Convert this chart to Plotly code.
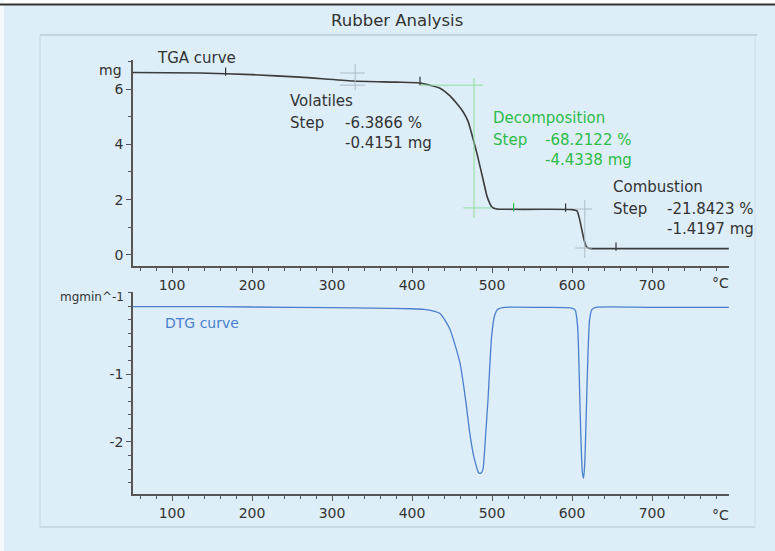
import plotly.graph_objects as go

W, H = 775, 551

# ---------------- data ----------------
tga_temp = [51, 135, 200, 260, 326, 380, 410, 422, 435, 447.5, 457.5, 464, 470, 475, 481, 489, 494,
            500, 506, 520, 560, 600, 606, 609, 612, 615, 618, 621, 624, 650, 720, 796]
tga_mass = [6.60, 6.58, 6.52, 6.43, 6.29, 6.25, 6.22, 6.14, 6.03, 5.75, 5.42, 5.17, 4.84, 4.34, 3.69, 2.71, 2.10,
            1.73, 1.66, 1.65, 1.65, 1.64, 1.60, 1.35, 0.95, 0.55, 0.30, 0.24, 0.23, 0.23, 0.23, 0.23]

dtg_temp = [51, 150, 250, 350, 400, 415, 426, 435, 447, 460, 467, 472, 477, 481, 483, 485, 487, 489,
            492, 495, 499.5, 503, 507, 515, 560, 600, 604, 607, 609, 611, 613, 614.5, 616, 618, 620,
            622, 625, 630, 700, 796]
dtg_val = [-0.01, -0.01, -0.02, -0.03, -0.04, -0.05, -0.07, -0.11, -0.33, -0.84, -1.38, -1.85, -2.20, -2.38,
           -2.45, -2.46, -2.45, -2.38, -1.90, -1.38, -0.45, -0.15, -0.05, -0.02, -0.02, -0.03, -0.06, -0.30,
           -1.00, -1.90, -2.45, -2.53, -2.30, -1.50, -0.70, -0.20, -0.05, -0.02, -0.02, -0.02]

# evaluation points marked on the TGA curve
mark_temp = [167, 410, 527, 592, 655]
mark_mass = [6.56, 6.22, 1.65, 1.64, 0.23]
mark_color = ["#333333", "#333333", "#2dbb4a", "#333333", "#333333"]

# step evaluation crosshairs
vol_v = dict(t=329, m=(5.96, 6.90), levels=(6.58, 6.14), trange=((310, 341), (310, 341)))
dec_v = dict(t=477.5, m=(1.34, 6.40), levels=(6.14, 1.70), trange=((410, 489), (464, 500)))
com_v = dict(t=616, m=(-0.11, 1.99), levels=(1.66, 0.25), trange=((604, 625), (604, 625)))

x_ticks = [100, 200, 300, 400, 500, 600, 700]

steps = [
    dict(name="Volatiles", pct="-6.3866 %", mg="-0.4151 mg"),
    dict(name="Decomposition", pct="-68.2122 %", mg="-4.4338 mg"),
    dict(name="Combustion", pct="-21.8423 %", mg="-1.4197 mg"),
]

# ---------------- styling ----------------
BG = "#ddeef9"
AX = "#555555"
TXT = "#333333"
GREEN = "#2dbb4a"
BLUE = "#4a7fcc"
GREY_CROSS = "#aebbc4"
FONT = "DejaVu Sans"

def px(x):
    return x / W

def py(y):
    return 1 - y / H

fig = go.Figure()

fig.add_trace(go.Scatter(x=tga_temp, y=tga_mass, mode="lines",
                         line=dict(color="#3c3c3c", width=1.6, shape="spline", smoothing=0.6),
                         xaxis="x", yaxis="y", showlegend=False))

def cross(c, color, xa="x", ya="y"):
    fig.add_trace(go.Scatter(x=[c["t"], c["t"]], y=list(c["m"]), mode="lines",
                             line=dict(color=color, width=1), xaxis=xa, yaxis=ya, showlegend=False))
    for lev, r in zip(c["levels"], c["trange"]):
        fig.add_trace(go.Scatter(x=list(r), y=[lev, lev], mode="lines",
                                 line=dict(color=color, width=1), xaxis=xa, yaxis=ya, showlegend=False))

cross(vol_v, GREY_CROSS)
cross(dec_v, "#8fdc9c")
cross(com_v, GREY_CROSS)

fig.add_trace(go.Scatter(x=mark_temp, y=[m + 0.07 for m in mark_mass], mode="markers",
                         marker=dict(symbol="line-ns", size=6, line=dict(width=1.2, color=mark_color)),
                         xaxis="x", yaxis="y", showlegend=False))

fig.add_trace(go.Scatter(x=dtg_temp, y=dtg_val, mode="lines",
                         line=dict(color=BLUE, width=1.3, shape="spline", smoothing=0.6),
                         xaxis="x2", yaxis="y2", showlegend=False))

x_dom = [px(133), px(729)]
x_range = [51.25, 796.25]

common_x = dict(range=x_range, domain=x_dom, showgrid=False, zeroline=False, showline=True,
                linecolor=AX, linewidth=1.5, ticks="outside", ticklen=5, tickcolor=AX, tickwidth=1,
                tickmode="array", tickvals=x_ticks, ticktext=[str(v) for v in x_ticks],
                tickfont=dict(family=FONT, size=14, color=TXT),
                minor=dict(tickmode="linear", tick0=0, dtick=20, ticks="outside", ticklen=3,
                           tickcolor=AX, tickwidth=1, showgrid=False))

common_y = dict(showgrid=False, zeroline=False, showline=True, linecolor=AX, linewidth=1.5,
                ticks="outside", ticklen=5, tickcolor=AX, tickwidth=1,
                tickfont=dict(family=FONT, size=14, color=TXT))

fig.update_layout(
    width=W, height=H,
    margin=dict(l=0, r=0, t=0, b=0),
    paper_bgcolor=BG, plot_bgcolor="rgba(0,0,0,0)",
    xaxis=dict(common_x, anchor="y"),
    yaxis=dict(common_y, domain=[py(266), py(60)], range=[-0.40, 7.05], anchor="x",
               tickmode="array", tickvals=[0, 2, 4, 6], ticktext=["0", "2", "4", "6"],
               minor=dict(tickmode="array", tickvals=[1, 3, 5, 7], ticks="outside", ticklen=3,
                          tickcolor=AX, showgrid=False)),
    xaxis2=dict(common_x, anchor="y2"),
    yaxis2=dict(common_y, domain=[py(494), py(292)], range=[-2.765, 0.206], anchor="x2",
                tickmode="array", tickvals=[-1, -2], ticktext=["-1", "-2"],
                minor=dict(tickmode="linear", tick0=0, dtick=0.2, ticks="outside", ticklen=3,
                           tickcolor=AX, showgrid=False)),
    showlegend=False,
)

shapes = [
    dict(type="rect", xref="paper", yref="paper", x0=0, x1=1, y0=py(4), y1=1,
         fillcolor="white", line=dict(width=0), layer="below"),
    dict(type="rect", xref="paper", yref="paper", x0=0, x1=px(4), y0=0, y1=1,
         fillcolor="#f4f9fc", line=dict(width=0), layer="below"),
    dict(type="rect", xref="paper", yref="paper", x0=0, x1=1, y0=py(5.5), y1=py(3.5),
         fillcolor="#333333", line=dict(width=0), layer="above"),
    dict(type="line", xref="paper", yref="paper", x0=px(40), x1=px(757), y0=py(35), y1=py(35),
         line=dict(color="#c3d2dc", width=2)),
    dict(type="line", xref="paper", yref="paper", x0=px(40), x1=px(755), y0=py(527), y1=py(527),
         line=dict(color="#c3d2dc", width=1.5)),
    dict(type="line", xref="paper", yref="paper", x0=px(40), x1=px(40), y0=py(527), y1=py(35),
         line=dict(color="#c8d6e0", width=1)),
    dict(type="line", xref="paper", yref="paper", x0=px(755), x1=px(755), y0=py(527), y1=py(35),
         line=dict(color="#d2e0ea", width=1)),
]
fig.update_layout(shapes=shapes)

def ann(text, x, y, color=TXT, xanchor="left", size=15):
    fig.add_annotation(text=text, x=px(x), y=py(y), xref="paper", yref="paper",
                       xanchor=xanchor, yanchor="middle", showarrow=False,
                       font=dict(family=FONT, size=size, color=color))

ann("Rubber Analysis", 397, 21, xanchor="center", size=16.5)
ann("TGA curve", 155, 58)
ann("mg", 124, 70, xanchor="right", size=14)
ann("mgmin^-1", 126, 297, xanchor="right", size=12)
ann("°C", 720, 283, xanchor="center", size=14)
ann("°C", 720, 515, xanchor="center", size=14)
ann("DTG curve", 163, 323, color=BLUE, size=14)

layout_pos = [
    dict(x=288, y=101, vx=343, color=TXT),
    dict(x=491, y=118, vx=543, color=GREEN),
    dict(x=611, y=187, vx=665, color=TXT),
]
for s, p in zip(steps, layout_pos):
    ann(s["name"], p["x"], p["y"], color=p["color"])
    ann("Step", p["x"], p["y"] + 22, color=p["color"])
    ann(s["pct"], p["vx"], p["y"] + 22, color=p["color"])
    ann(s["mg"], p["vx"], p["y"] + 42, color=p["color"])

fig.write_html("out.html", config={"displayModeBar": False},
               post_script="document.body.style.margin='0';document.body.style.padding='0';")
